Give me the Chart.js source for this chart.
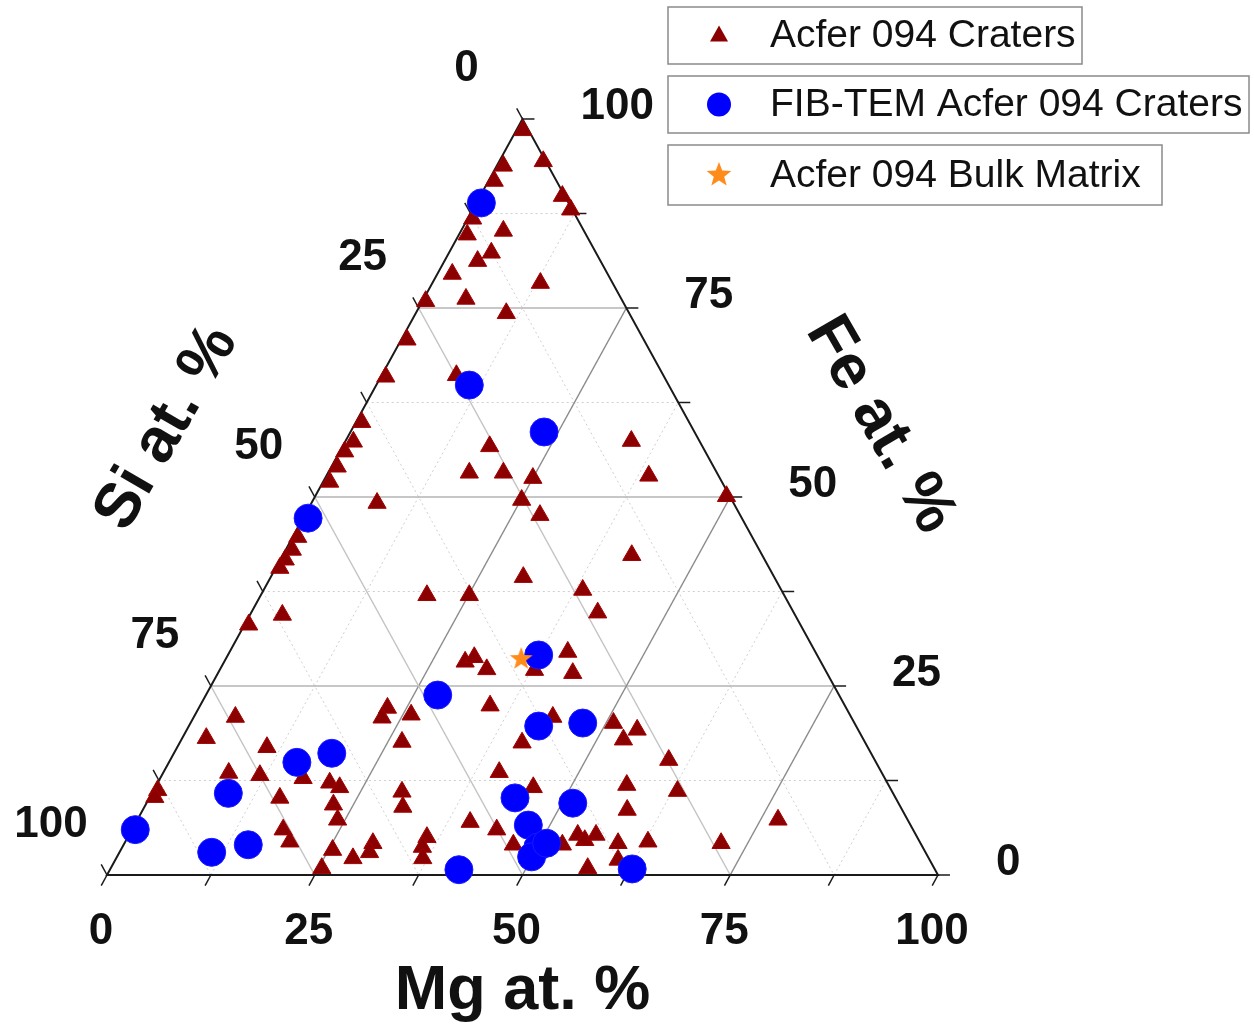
<!DOCTYPE html>
<html>
<head>
<meta charset="utf-8">
<script src="https://cdn.jsdelivr.net/npm/chart.js"></script>
<style>
  html, body { margin: 0; padding: 0; background: #fff; }
  #wrap { width: 1254px; height: 1027px; position: relative; }
</style>
</head>
<body>
<div id="wrap"><canvas id="ternary"></canvas></div>
<script>
// ternary compositions, at. % (Si = 100 - Mg - Fe)
const craterMg = [
  0.8, 5.3, 0.8, 0.7, 9.9, 11.8, 0.6, 1.0, 5.1, 5.1, 4.0, 1.8, 13.0, 5.1, 0.4, 10.9,
  0.7, 9.0, 0.6, 0.7, 1.0, 0.6, 0.7, 0.8, 17.7, 17.0, 21.1, 25.0, 7.9, 25.1, 28.3, 34.4,
  38.8, 49.5, 0.6, 0.8, 0.6, 0.5, 42.0, 30.4, 20.0, 25.1, 38.4, 41.7, 3.9, 0.5,
  29.0, 29.8, 32.1, 37.9, 40.7, 42.7, 34.9, 22.7, 26.0, 22.7, 43.2, 26.7, 41.2, 50.9, 54.2, 53.2,
  60.0, 40.4, 45.5, 56.6, 63.1, 58.3, 5.0, 2.9, 10.8, 11.8, 7.9, 17.2, 0.5, 0.6, 15.7, 18.2,
  19.8, 20.7, 22.2, 22.6, 24.1, 25.5, 28.5, 29.9, 30.1, 25.4, 30.0, 31.1, 36.0, 36.1, 36.9, 40.2,
  43.9, 46.9, 52.8, 54.0, 55.2, 56.2, 59.4, 62.9, 57.4, 60.5, 71.8, 77.1
];
const craterFe = [
  98.5, 94.4, 93.8, 91.8, 89.8, 88.0, 86.8, 84.7, 85.2, 82.3, 81.2, 79.5, 78.3, 76.2, 75.9, 74.3,
  70.8, 66.1, 65.9, 59.9, 57.3, 56.0, 54.0, 52.0, 56.7, 53.2, 53.2, 52.5, 49.2, 49.6, 47.6, 57.4,
  52.8, 50.1, 44.7, 43.0, 41.7, 40.6, 42.3, 39.4, 37.0, 37.0, 37.7, 34.7, 34.4, 33.1,
  28.2, 28.8, 27.2, 27.1, 29.5, 26.7, 22.4, 22.1, 21.2, 20.8, 20.9, 17.6, 17.5, 20.1, 19.2, 17.9,
  15.2, 13.6, 11.6, 11.9, 11.1, 8.6, 20.9, 18.1, 16.9, 13.2, 13.5, 12.8, 11.2, 10.3, 10.2, 6.0,
  4.4, 12.2, 11.6, 9.3, 7.3, 3.3, 2.2, 4.2, 3.0, 0.9, 11.0, 9.0, 5.0, 3.7, 2.2, 7.0,
  6.0, 4.0, 4.0, 5.3, 4.6, 5.3, 4.2, 4.4, 0.9, 2.0, 4.2, 7.3
];
const fibMg = [0.6, 11.2, 23.3, 0.6, 37.4, 27.9, 42.1, 47.2, 15.4, 19.0, 9.2, 0.4, 11.1, 15.0, 44.0, 51.3, 47.4, 50.0, 49.9, 50.8, 42.0, 62.8];
const fibFe = [88.9, 64.8, 58.6, 47.2, 29.1, 23.8, 19.7, 20.1, 14.9, 16.1, 10.8, 6.0, 3.0, 4.0, 10.2, 9.5, 6.6, 3.7, 2.4, 4.2, 0.7, 0.8];
const bulkMg = [35.5];
const bulkFe = [28.7];

const tickValues = [0, 25, 50, 75, 100];
const seriesNames = ['Acfer 094 Craters', 'FIB-TEM Acfer 094 Craters', 'Acfer 094 Bulk Matrix'];

// ternary -> cartesian (base = Mg axis, apex = Fe 100)
const toXY = (mg, fe) => ({ x: mg + fe / 2, y: fe });
const toPoints = (mgs, fes) => mgs.map((m, i) => toXY(m, fes[i]));

const TRI_RED = '#8b0000';
const BLUE = '#0000ff';
const ORANGE = '#ff8c1a';

function starPath(ctx, cx, cy, R, r) {
  ctx.beginPath();
  for (let i = 0; i < 10; i++) {
    const a = -Math.PI / 2 + i * Math.PI / 5;
    const rad = i % 2 ? r : R;
    ctx.lineTo(cx + Math.cos(a) * rad, cy + Math.sin(a) * rad);
  }
  ctx.closePath();
}

const starImg = document.createElement('canvas');
starImg.width = 26; starImg.height = 26;
(() => {
  const c = starImg.getContext('2d');
  starPath(c, 13, 14, 12, 5);
  c.fillStyle = ORANGE;
  c.fill();
})();

const ternaryFrame = {
  id: 'ternaryFrame',
  beforeDatasetsDraw(chart) {
    const ctx = chart.ctx;
    const xs = chart.scales.x, ys = chart.scales.y;
    const P = (mg, fe) => [xs.getPixelForValue(mg + fe / 2), ys.getPixelForValue(fe)];
    const seg = (a, b) => { ctx.beginPath(); ctx.moveTo(a[0], a[1]); ctx.lineTo(b[0], b[1]); ctx.stroke(); };

    ctx.save();
    // minor dotted grid
    ctx.setLineDash([2, 3]);
    ctx.lineWidth = 1;
    ctx.strokeStyle = '#cfcfcf';
    [12.5, 37.5, 62.5, 87.5].forEach(v => {
      seg(P(0, v), P(100 - v, v));
      seg(P(v, 0), P(v, 100 - v));
      seg(P(0, 100 - v), P(100 - v, 0));
    });
    ctx.setLineDash([]);
    // major grid
    ctx.lineWidth = 1.5;
    [25, 50, 75].forEach(v => {
      ctx.strokeStyle = '#b4b4b4';
      seg(P(0, v), P(100 - v, v));
      ctx.strokeStyle = '#8c8c8c';
      seg(P(v, 0), P(v, 100 - v));
      ctx.strokeStyle = '#c4c4c4';
      seg(P(0, 100 - v), P(100 - v, 0));
    });
    // outline
    ctx.strokeStyle = '#1a1a1a';
    ctx.lineWidth = 2;
    ctx.beginPath();
    const a = P(0, 0), b = P(100, 0), c = P(0, 100);
    ctx.moveTo(a[0], a[1]); ctx.lineTo(b[0], b[1]); ctx.lineTo(c[0], c[1]); ctx.closePath();
    ctx.stroke();

    // ticks
    const unit = (p, q) => { const dx = q[0] - p[0], dy = q[1] - p[1], l = Math.hypot(dx, dy); return [dx / l, dy / l]; };
    const dMg = unit(P(0, 0), P(0, 100));      // along constant-Mg lines
    const dSi = unit(P(0, 100), P(100, 0));    // along constant-Si lines
    const len = 12;
    ctx.lineWidth = 1.5;
    for (let v = 0; v <= 100; v += 12.5) {
      const pb = P(v, 0);
      seg(pb, [pb[0] - dMg[0] * len, pb[1] - dMg[1] * len]);
      const pl = P(0, 100 - v);
      seg(pl, [pl[0] - dSi[0] * len, pl[1] - dSi[1] * len]);
      const pr = P(100 - v, v);
      seg(pr, [pr[0] + len, pr[1]]);
    }

    // tick labels
    ctx.fillStyle = '#111';
    ctx.font = 'bold 44px "Liberation Sans", Arial, sans-serif';
    ctx.textBaseline = 'middle';
    tickValues.forEach(v => {
      const pb = P(v, 0);
      ctx.textAlign = 'center';
      ctx.fillText(String(v), pb[0] - 6, pb[1] + 57);
      const pl = P(0, 100 - v);
      ctx.fillText(String(v), pl[0] - 56, pl[1] - 50);
      const pr = P(100 - v, v);
      ctx.textAlign = 'left';
      ctx.fillText(String(v), pr[0] + 58, pr[1] - 12);
    });

    // axis titles
    ctx.font = 'bold 63px "Liberation Sans", Arial, sans-serif';
    ctx.textAlign = 'center';
    ctx.fillText('Mg at. %', (a[0] + b[0]) / 2, a[1] + 117);
    ctx.save();
    ctx.translate(167, 428);
    ctx.rotate(-Math.PI / 180 * 60);
    ctx.fillText('Si at. %', 0, 0);
    ctx.restore();
    ctx.save();
    ctx.translate(880, 425);
    ctx.rotate(Math.PI / 180 * 60);
    ctx.fillText('Fe at. %', 0, 0);
    ctx.restore();
    ctx.restore();
  },
  afterDraw(chart) {
    const ctx = chart.ctx;
    ctx.save();
    const boxes = [
      { x: 668, y: 7, w: 414, h: 57 },
      { x: 668, y: 76, w: 581, h: 57 },
      { x: 668, y: 145, w: 494, h: 60 }
    ];
    ctx.font = '39px "Liberation Sans", Arial, sans-serif';
    ctx.textBaseline = 'middle';
    ctx.textAlign = 'left';
    boxes.forEach((bx, i) => {
      ctx.fillStyle = '#fff';
      ctx.fillRect(bx.x, bx.y, bx.w, bx.h);
      ctx.strokeStyle = '#8a8a8a';
      ctx.lineWidth = 1.5;
      ctx.strokeRect(bx.x, bx.y, bx.w, bx.h);
      const cx = 719, cy = bx.y + bx.h / 2;
      if (i === 0) {
        ctx.fillStyle = TRI_RED;
        ctx.beginPath();
        ctx.moveTo(cx, cy - 10); ctx.lineTo(cx + 9, cy + 6); ctx.lineTo(cx - 9, cy + 6); ctx.closePath();
        ctx.fill();
      } else if (i === 1) {
        ctx.fillStyle = BLUE;
        ctx.beginPath(); ctx.arc(cx, cy, 12, 0, Math.PI * 2); ctx.fill();
      } else {
        ctx.fillStyle = ORANGE;
        starPath(ctx, cx, cy, 13, 5.5); ctx.fill();
      }
      ctx.fillStyle = '#111';
      ctx.fillText(seriesNames[i], 770, cy + 1);
    });
    ctx.restore();
  }
};

new Chart(document.getElementById('ternary'), {
  type: 'scatter',
  data: {
    datasets: [
      {
        label: seriesNames[0],
        data: toPoints(craterMg, craterFe),
        pointStyle: 'triangle',
        pointRadius: 10.5,
        backgroundColor: TRI_RED,
        borderColor: '#a30000',
        borderWidth: 1,
        order: 3,
        clip: false
      },
      {
        label: seriesNames[1],
        data: toPoints(fibMg, fibFe),
        pointStyle: 'circle',
        pointRadius: 14,
        backgroundColor: BLUE,
        borderColor: '#1a1aff',
        borderWidth: 1,
        order: 2,
        clip: false
      },
      {
        label: seriesNames[2],
        data: toPoints(bulkMg, bulkFe),
        pointStyle: starImg,
        order: 1,
        clip: false
      }
    ]
  },
  options: {
    responsive: true,
    maintainAspectRatio: false,
    animation: false,
    layout: { padding: 0, autoPadding: false },
    scales: {
      x: { type: 'linear', min: -12.876, max: 138.03, display: false },
      y: { type: 'linear', min: -20.106, max: 115.74, display: false }
    },
    plugins: {
      legend: { display: false },
      tooltip: { enabled: false }
    }
  },
  plugins: [ternaryFrame]
});
</script>
</body>
</html>
